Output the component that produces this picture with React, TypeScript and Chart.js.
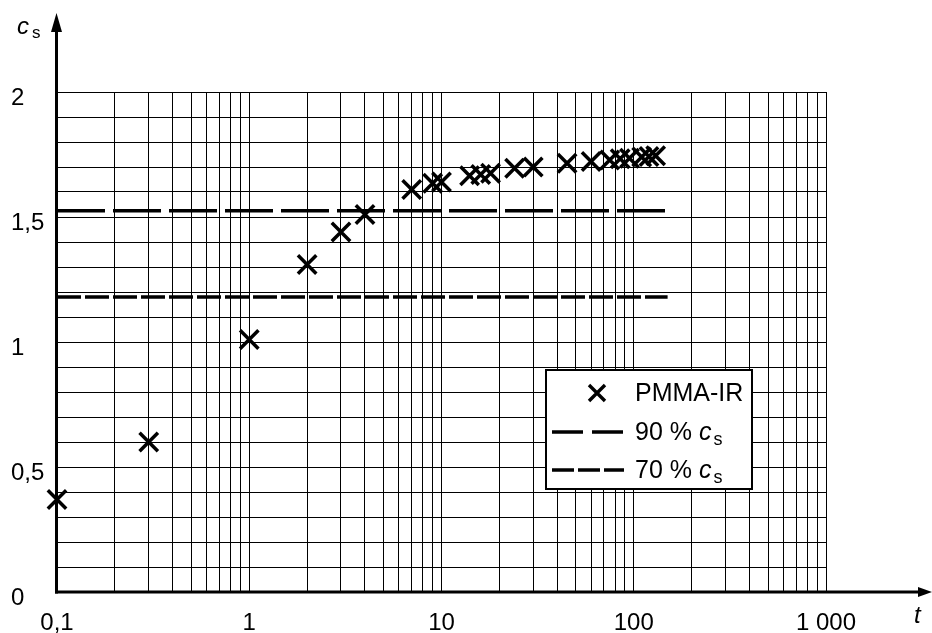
import React, { useEffect, useRef } from 'react';
import { Chart, registerables } from 'chart.js';

Chart.register(...registerables);

// ---- data ----
const tValues = [0.1, 0.3, 1, 2, 3, 4, 7, 9, 10, 14, 16, 18, 24, 30, 45, 60, 75, 85, 95, 110, 120, 130];
const csValues = [0.37, 0.6, 1.01, 1.31, 1.44, 1.51, 1.61, 1.635, 1.64, 1.665, 1.67, 1.675, 1.695, 1.7, 1.715, 1.722, 1.728, 1.733, 1.735, 1.74, 1.742, 1.745];
const line90Value = 1.525;
const line70Value = 1.18;
const refLineT = [0.1, 150];

const xDecades = [0.1, 1, 10, 100, 1000];
const xDecadeLabels = ['0,1', '1', '10', '100', '1 000'];
const xMinorFactors = [2, 3, 4, 5, 6, 7, 8, 9];
const yLabelValues = [0, 0.5, 1, 1.5, 2];
const yLabels = ['0', '0,5', '1', '1,5', '2'];
const legendSeries = 'PMMA-IR';
const legendLinePrefixes = ['90 % ', '70 % '];

const FONT = '"Liberation Sans", Arial, sans-serif';

function buildXTicks(): number[] {
  const out: number[] = [];
  xDecades.forEach((d, i) => {
    out.push(d);
    if (i < xDecades.length - 1) xMinorFactors.forEach((f) => out.push(d * f));
  });
  return out;
}

const overlayPlugin = {
  id: 'overlay',
  afterDatasetsDraw(chart: any) {
    const ctx = chart.ctx as CanvasRenderingContext2D;
    const a = chart.chartArea;
    ctx.save();
    ctx.strokeStyle = '#000';
    ctx.fillStyle = '#000';
    // y axis
    const ax = a.left - 0.5;
    ctx.lineWidth = 3;
    ctx.beginPath();
    ctx.moveTo(ax, a.bottom + 1.5);
    ctx.lineTo(ax, 30);
    ctx.stroke();
    ctx.beginPath();
    ctx.moveTo(ax, 13);
    ctx.lineTo(ax - 5.5, 32);
    ctx.lineTo(ax + 5.5, 32);
    ctx.closePath();
    ctx.fill();
    // x axis
    const ay = a.bottom;
    ctx.beginPath();
    ctx.moveTo(ax - 1.5, ay);
    ctx.lineTo(921, ay);
    ctx.stroke();
    ctx.beginPath();
    ctx.moveTo(932, ay);
    ctx.lineTo(918, ay - 5);
    ctx.lineTo(918, ay + 5);
    ctx.closePath();
    ctx.fill();

    // axis titles
    ctx.textBaseline = 'alphabetic';
    ctx.textAlign = 'left';
    ctx.font = `italic 24px ${FONT}`;
    ctx.fillText('c', 17, 34);
    ctx.font = `17px ${FONT}`;
    ctx.fillText('s', 32, 38);
    ctx.font = `italic 24px ${FONT}`;
    ctx.fillText('t', 914, 623);

    // legend
    const bx = 546, by = 370, bw = 206, bh = 119;
    ctx.fillStyle = '#fff';
    ctx.fillRect(bx, by, bw, bh);
    ctx.lineWidth = 2;
    ctx.strokeStyle = '#000';
    ctx.strokeRect(bx, by, bw, bh);
    ctx.fillStyle = '#000';
    // marker
    ctx.lineWidth = 3.4;
    const mx = 597, my = 393, d = 8;
    ctx.beginPath();
    ctx.moveTo(mx - d, my - d);
    ctx.lineTo(mx + d, my + d);
    ctx.moveTo(mx + d, my - d);
    ctx.lineTo(mx - d, my + d);
    ctx.stroke();
    ctx.font = `25px ${FONT}`;
    ctx.textBaseline = 'middle';
    ctx.fillText(legendSeries, 635, 394);
    // line samples
    const rows = [
      { y: 432, dash: [31, 9] },
      { y: 470, dash: [22, 4] },
    ];
    rows.forEach((r, i) => {
      ctx.save();
      ctx.lineWidth = 3.4;
      ctx.setLineDash(r.dash);
      ctx.beginPath();
      ctx.moveTo(552, r.y);
      ctx.lineTo(624, r.y);
      ctx.stroke();
      ctx.restore();
      ctx.font = `25px ${FONT}`;
      ctx.textBaseline = 'middle';
      const pre = legendLinePrefixes[i];
      ctx.fillText(pre, 635, r.y + 1);
      const w = ctx.measureText(pre).width;
      ctx.font = `italic 25px ${FONT}`;
      ctx.fillText('c', 635 + w, r.y + 1);
      const wc = ctx.measureText('c').width;
      ctx.font = `18px ${FONT}`;
      ctx.fillText('s', 635 + w + wc + 2, r.y + 8);
    });
    ctx.restore();
  },
};

export default function App() {
  const ref = useRef<HTMLCanvasElement | null>(null);
  useEffect(() => {
    if (!ref.current) return;
    const xTicks = buildXTicks();
    const chart = new Chart(ref.current, {
      type: 'line',
      data: {
        datasets: [
          {
            label: '90 % cs',
            data: refLineT.map((t) => ({ x: t, y: line90Value })),
            borderColor: '#000',
            borderWidth: 3.5,
            borderDash: [48, 8],
            pointRadius: 0,
            fill: false,
          },
          {
            label: '70 % cs',
            data: refLineT.map((t) => ({ x: t, y: line70Value })),
            borderColor: '#000',
            borderWidth: 3.5,
            borderDash: [24, 4],
            pointRadius: 0,
            fill: false,
          },
          {
            label: legendSeries,
            data: tValues.map((t, i) => ({ x: t, y: csValues[i] })),
            showLine: false,
            pointStyle: 'crossRot',
            pointRadius: 13,
            pointBorderWidth: 3.5,
            pointBorderColor: '#000',
            pointBackgroundColor: '#000',
            borderColor: '#000',
            clip: false,
          } as any,
        ],
      },
      options: {
        animation: false,
        responsive: false,
        devicePixelRatio: 1,
        layout: { padding: { left: 11, top: 92, right: 106, bottom: 0 } },
        plugins: { legend: { display: false }, tooltip: { enabled: false } },
        scales: {
          x: {
            type: 'logarithmic',
            min: 0.1,
            max: 1000,
            border: { display: false },
            grid: { color: '#000', lineWidth: 1, drawTicks: false },
            afterBuildTicks: (scale: any) => {
              scale.ticks = xTicks.map((v) => ({ value: v }));
            },
            afterFit: (scale: any) => {
              scale.height = 41;
            },
            ticks: {
              autoSkip: false,
              maxRotation: 0,
              minRotation: 0,
              padding: 17,
              color: '#000',
              font: { family: FONT, size: 24 },
              callback: (v: any) => {
                const idx = xDecades.findIndex((d) => Math.abs(d - Number(v)) < d * 1e-6);
                return idx >= 0 ? xDecadeLabels[idx] : '';
              },
            },
          },
          y: {
            type: 'linear',
            min: 0,
            max: 2,
            border: { display: false },
            grid: { color: '#000', lineWidth: 1, drawTicks: false },
            afterFit: (scale: any) => {
              scale.width = 46;
            },
            ticks: {
              stepSize: 0.1,
              autoSkip: false,
              crossAlign: 'far',
              labelOffset: 6,
              padding: 0,
              color: '#000',
              font: { family: FONT, size: 24 },
              callback: (v: any) => {
                const idx = yLabelValues.findIndex((d) => Math.abs(d - Number(v)) < 1e-6);
                return idx >= 0 ? yLabels[idx] : '';
              },
            },
          },
        },
      },
      plugins: [overlayPlugin],
    });
    return () => chart.destroy();
  }, []);
  return (
    <div style={{ position: 'absolute', left: 0, top: 0, width: 932, height: 633, background: '#fff' }}>
      <canvas ref={ref} width={932} height={633} style={{ display: 'block' }} />
    </div>
  );
}
